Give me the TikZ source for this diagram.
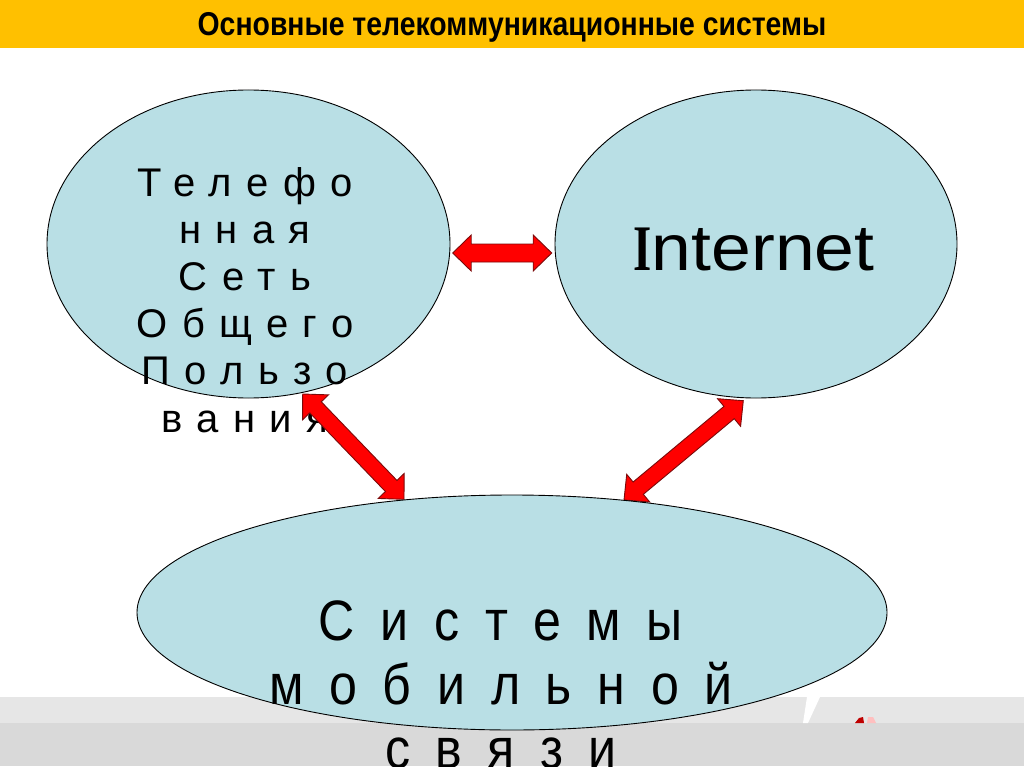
\documentclass[tikz,border=0pt]{standalone}
\usepackage{fontspec}
\setmainfont{Liberation Sans}
\newfontfamily\titlefont[FakeStretch=0.86]{Liberation Sans}
\newfontfamily\spacedA[LetterSpace=36]{Liberation Sans}
\newfontfamily\spacedB[LetterSpace=45,FakeStretch=0.88]{Liberation Sans}
\newfontfamily\inetfont[FakeStretch=1.1]{Liberation Sans}
\newfontfamily\islab[FakeStretch=0.72]{Liberation Serif}
\usetikzlibrary{calc,shapes.geometric}
\definecolor{headband}{HTML}{FFC000}
\definecolor{bubble}{HTML}{B9DFE5}
\definecolor{bandlight}{HTML}{E6E6E6}
\definecolor{banddark}{HTML}{D9D9D9}
\definecolor{arrowedge}{HTML}{7A0A0A}
\tikzset{
  bubblenode/.style={ellipse,draw=black,line width=0.9pt,fill=bubble,inner sep=0pt},
  blockarrow/.style={fill=red,draw=arrowedge,line width=0.9pt,line join=miter},
  bandpart/.style={fill=#1,draw=none}
}
% block arrow between two named tips: head length/half width 18.5, shaft half width #3
\newcommand{\blockarrowbetween}[3]{%
  \coordinate (h1) at ($(#1)!18.5pt!(#2)$);
  \coordinate (h2) at ($(#2)!18.5pt!(#1)$);
  \draw[blockarrow] (#1)
    -- ($(h1)!18pt!90:(#2)$) -- ($(h1)!#3!90:(#2)$)
    -- ($(h2)!#3!-90:(#1)$) -- ($(h2)!18pt!-90:(#1)$)
    -- (#2)
    -- ($(h2)!18pt!90:(#1)$) -- ($(h2)!#3!90:(#1)$)
    -- ($(h1)!#3!-90:(#2)$) -- ($(h1)!18pt!-90:(#2)$)
    -- cycle;
}
\begin{document}
\begin{tikzpicture}[x=1pt,y=-1pt]
\useasboundingbox (0,0) rectangle (1024,767);
\fill[white] (0,0) rectangle (1024,767);
% bands
\path[bandpart=headband] (0,0) rectangle (1024,48);
\path[bandpart=bandlight] (0,697) rectangle (1024,723);
\path[bandpart=banddark] (0,723) rectangle (1024,766);
\fill[white] (807,697) -- (820,697) -- (808,723) -- (803,723) -- cycle;
\fill[red!75!black] (855,723) -- (859,718) -- (863,717) -- (864,723) -- cycle;
\fill[red!25!white] (867,723) -- (868,717) -- (873,717) -- (876,723) -- cycle;
\node[font=\fontsize{33}{36}\selectfont\titlefont\bfseries] (title) at (512,27) {Основные телекоммуникационные системы};
% upper bubbles
\node[bubblenode,minimum width=403pt,minimum height=308pt] (phone) at (248.5,244) {};
\node[bubblenode,minimum width=402pt,minimum height=308pt] (inet) at (756,244) {};
\node[align=center,inner sep=0pt,anchor=north,font=\fontsize{40}{47.2}\selectfont\spacedA] (phonetext) at (245,167)
  {Телефо\\нная\\Сеть\\Общего\\Пользо\\вания};
\node[font=\fontsize{65}{70}\selectfont] (inettext) at (754,250) {{\islab\bfseries I}{\inetfont nternet}};
% arrow tips
\coordinate (a1) at (452.7,253);
\coordinate (a2) at (551.7,253);
\coordinate (b1) at (302.7,394);
\coordinate (b2) at (404,499.3);
\coordinate (c1) at (743.3,400.7);
\coordinate (c2) at (624,500);
\blockarrowbetween{a1}{a2}{9pt}
\blockarrowbetween{b1}{b2}{8pt}
\blockarrowbetween{c1}{c2}{8pt}
% lower bubble
\node[bubblenode,minimum width=750pt,minimum height=235pt] (mobile) at (512,612.5) {};
\node[align=center,inner sep=0pt,anchor=north,font=\fontsize{57}{64}\selectfont\spacedB] (mobiletext) at (501,600)
  {Системы\\мобильной\\связи};
\end{tikzpicture}
\end{document}
